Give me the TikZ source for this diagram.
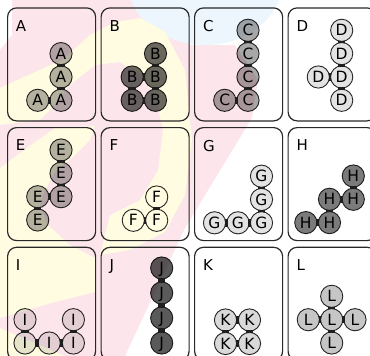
\documentclass[tikz,border=0pt]{standalone}
\usepackage{fontspec}
\setmainfont{DejaVu Sans}
\usepackage{tikz}
\usetikzlibrary{positioning}

\definecolor{washPink}{RGB}{252,229,235}
\definecolor{washYellow}{RGB}{255,252,226}
\definecolor{washBlue}{RGB}{237,246,252}
\definecolor{frameGray}{RGB}{40,40,40}
\definecolor{bondGray}{RGB}{30,30,30}
\definecolor{shadeA}{RGB}{180,180,180}
\definecolor{shadeB}{RGB}{106,106,106}
\definecolor{shadeC}{RGB}{168,168,168}
\definecolor{shadeD}{RGB}{227,227,227}
\definecolor{shadeF}{RGB}{255,255,255}
\definecolor{shadeH}{RGB}{123,123,123}
\definecolor{shadeI}{RGB}{230,230,230}
\definecolor{shadeJ}{RGB}{90,90,90}
\definecolor{shadeK}{RGB}{217,217,217}
\definecolor{shadeL}{RGB}{198,198,198}

\begin{document}
\begin{tikzpicture}[x=1pt, y=-1pt,
  panel/.style={draw=frameGray, line width=1.2pt, rounded corners=9pt,
    minimum width=88pt, minimum height=113pt, anchor=north west, inner sep=0pt},
  tag/.style={inner sep=0pt, font=\fontsize{15}{15}\selectfont},
  cell/.style={circle, draw=frameGray, line width=0.9pt, fill=#1,
    minimum size=22.2pt, inner sep=0pt, text height=11.3pt, text depth=0pt,
    font=\fontsize{15.5}{15.5}\selectfont},
  bond/.style={draw=bondGray, line width=7.5pt, shorten <=10.4pt, shorten >=10.4pt}]
\useasboundingbox (0,0) rectangle (370,356);
\clip (0,0) rectangle (370,356);

\fill[washPink] (12,0) -- (140,0) -- (190,45) -- (235,45) -- (258,80) -- (252,118)
  -- (185,228) -- (125,356) -- (0,356) -- (0,50) -- (12,35) -- cycle;
\fill[washBlue] (205,-20) ellipse [x radius=78, y radius=65];
\fill[washYellow] (0,88) -- (35,72) -- (62,60) -- (90,35) -- (115,22) -- (140,18)
  -- (165,32) -- (185,70) -- (192,140) -- (185,195) -- (165,232) -- (130,250)
  -- (100,255) -- (110,215) -- (140,200) -- (158,170) -- (163,130) -- (155,95)
  -- (140,75) -- (120,62) -- (95,65) -- (70,85) -- (50,110) -- (40,120) -- (0,125) -- cycle;
\fill[washYellow] (0,168) -- (35,142) -- (55,128) -- (95,126) -- (90,140) -- (75,155)
  -- (55,172) -- (45,190) -- (40,205) -- (48,225) -- (70,245) -- (95,258)
  -- (95,292) -- (55,302) -- (0,318) -- cycle;
\fill[washYellow] (0,328) -- (65,356) -- (0,356) -- cycle;

\foreach \name [count=\k from 0] in {A,B,C,D,E,F,G,H,I,J,K,L} {
  \pgfmathsetmacro\px{7+93.5*mod(\k,4)}
  \pgfmathsetmacro\py{7.3+119.7*int(\k/4)}
  \node[panel] (p\name) at (\px,\py) {};
  \node[tag, below right=12.7pt and 8.8pt of p\name.north west] (t\name) {\name};
}

\begin{scope}[blend mode=multiply]
\node[cell=shadeA] (a1) at (61,53.6) {A};
\node[cell=shadeA] (a2) at (61,77) {A};
\node[cell=shadeA] (a3) at (61,100.3) {A};
\node[cell=shadeA] (a4) at (37.7,100.3) {A};

\node[cell=shadeB] (b1) at (155.5,53.6) {B};
\node[cell=shadeB] (b2) at (155.5,77) {B};
\node[cell=shadeB] (b3) at (132.2,77) {B};
\node[cell=shadeB] (b4) at (132.2,100.3) {B};
\node[cell=shadeB] (b5) at (155.5,100.3) {B};

\node[cell=shadeC] (c1) at (248,30.3) {C};
\node[cell=shadeC] (c2) at (248,53.6) {C};
\node[cell=shadeC] (c3) at (248,77) {C};
\node[cell=shadeC] (c4) at (248,100.3) {C};
\node[cell=shadeC] (c5) at (224.7,100.3) {C};

\node[cell=shadeD] (d1) at (341.7,30.3) {D};
\node[cell=shadeD] (d2) at (341.7,53.6) {D};
\node[cell=shadeD] (d3) at (341.7,77) {D};
\node[cell=shadeD] (d4) at (318.3,77) {D};
\node[cell=shadeD] (d5) at (341.7,100.3) {D};

\node[cell=shadeA] (e1) at (61,150) {E};
\node[cell=shadeA] (e2) at (61,173.3) {E};
\node[cell=shadeA] (e3) at (61,196.7) {E};
\node[cell=shadeA] (e4) at (37.7,196.7) {E};
\node[cell=shadeA] (e5) at (37.7,220) {E};

\node[cell=shadeF] (f1) at (156.7,197) {F};
\node[cell=shadeF] (f2) at (156.7,220.3) {F};
\node[cell=shadeF] (f3) at (133.3,220.3) {F};

\node[cell=shadeD] (g1) at (261.5,176.2) {G};
\node[cell=shadeD] (g2) at (261.5,199.5) {G};
\node[cell=shadeD] (g3) at (261.5,222.8) {G};
\node[cell=shadeD] (g4) at (238,222.8) {G};
\node[cell=shadeD] (g5) at (214.5,222.8) {G};

\node[cell=shadeH] (h1) at (353.3,176) {H};
\node[cell=shadeH] (h2) at (353.3,199.3) {H};
\node[cell=shadeH] (h3) at (329.5,199.3) {H};
\node[cell=shadeH] (h4) at (329.5,222.6) {H};
\node[cell=shadeH] (h5) at (305.8,222.6) {H};

\node[cell=shadeI] (i1) at (25,319.7) {I};
\node[cell=shadeI] (i2) at (25,343) {I};
\node[cell=shadeI] (i3) at (49.2,343) {I};
\node[cell=shadeI] (i4) at (73.4,343) {I};
\node[cell=shadeI] (i5) at (73.4,319.7) {I};

\node[cell=shadeJ] (j1) at (161.7,268) {J};
\node[cell=shadeJ] (j2) at (161.7,293) {J};
\node[cell=shadeJ] (j3) at (161.7,318) {J};
\node[cell=shadeJ] (j4) at (161.7,343) {J};

\node[cell=shadeK] (k1) at (225.5,320) {K};
\node[cell=shadeK] (k2) at (249.5,320) {K};
\node[cell=shadeK] (k3) at (225.5,343.5) {K};
\node[cell=shadeK] (k4) at (249.5,343.5) {K};

\node[cell=shadeL] (l1) at (331.7,296.3) {L};
\node[cell=shadeL] (l2) at (308.3,319.7) {L};
\node[cell=shadeL] (l3) at (331.7,319.7) {L};
\node[cell=shadeL] (l4) at (355,319.7) {L};
\node[cell=shadeL] (l5) at (331.7,343) {L};
\end{scope}

\draw[bond] (a1.center) -- (a2.center);
\draw[bond] (a2.center) -- (a3.center);
\draw[bond] (a4.center) -- (a3.center);
\draw[bond] (b1.center) -- (b2.center);
\draw[bond] (b3.center) -- (b2.center);
\draw[bond] (b2.center) -- (b5.center);
\draw[bond] (b3.center) -- (b4.center);
\draw[bond] (b4.center) -- (b5.center);
\draw[bond] (c1.center) -- (c2.center);
\draw[bond] (c2.center) -- (c3.center);
\draw[bond] (c3.center) -- (c4.center);
\draw[bond] (c5.center) -- (c4.center);
\draw[bond] (d1.center) -- (d2.center);
\draw[bond] (d2.center) -- (d3.center);
\draw[bond] (d4.center) -- (d3.center);
\draw[bond] (d3.center) -- (d5.center);
\draw[bond] (e1.center) -- (e2.center);
\draw[bond] (e2.center) -- (e3.center);
\draw[bond] (e4.center) -- (e3.center);
\draw[bond] (e4.center) -- (e5.center);
\draw[bond] (f1.center) -- (f2.center);
\draw[bond] (f3.center) -- (f2.center);
\draw[bond] (g1.center) -- (g2.center);
\draw[bond] (g2.center) -- (g3.center);
\draw[bond] (g5.center) -- (g4.center);
\draw[bond] (g4.center) -- (g3.center);
\draw[bond] (h1.center) -- (h2.center);
\draw[bond] (h3.center) -- (h2.center);
\draw[bond] (h3.center) -- (h4.center);
\draw[bond] (h5.center) -- (h4.center);
\draw[bond] (i1.center) -- (i2.center);
\draw[bond] (i2.center) -- (i3.center);
\draw[bond] (i3.center) -- (i4.center);
\draw[bond] (i5.center) -- (i4.center);
\draw[bond] (j1.center) -- (j2.center);
\draw[bond] (j2.center) -- (j3.center);
\draw[bond] (j3.center) -- (j4.center);
\draw[bond] (k1.center) -- (k2.center);
\draw[bond] (k1.center) -- (k3.center);
\draw[bond] (k2.center) -- (k4.center);
\draw[bond] (k3.center) -- (k4.center);
\draw[bond] (l1.center) -- (l3.center);
\draw[bond] (l2.center) -- (l3.center);
\draw[bond] (l3.center) -- (l4.center);
\draw[bond] (l3.center) -- (l5.center);
\end{tikzpicture}
\end{document}
